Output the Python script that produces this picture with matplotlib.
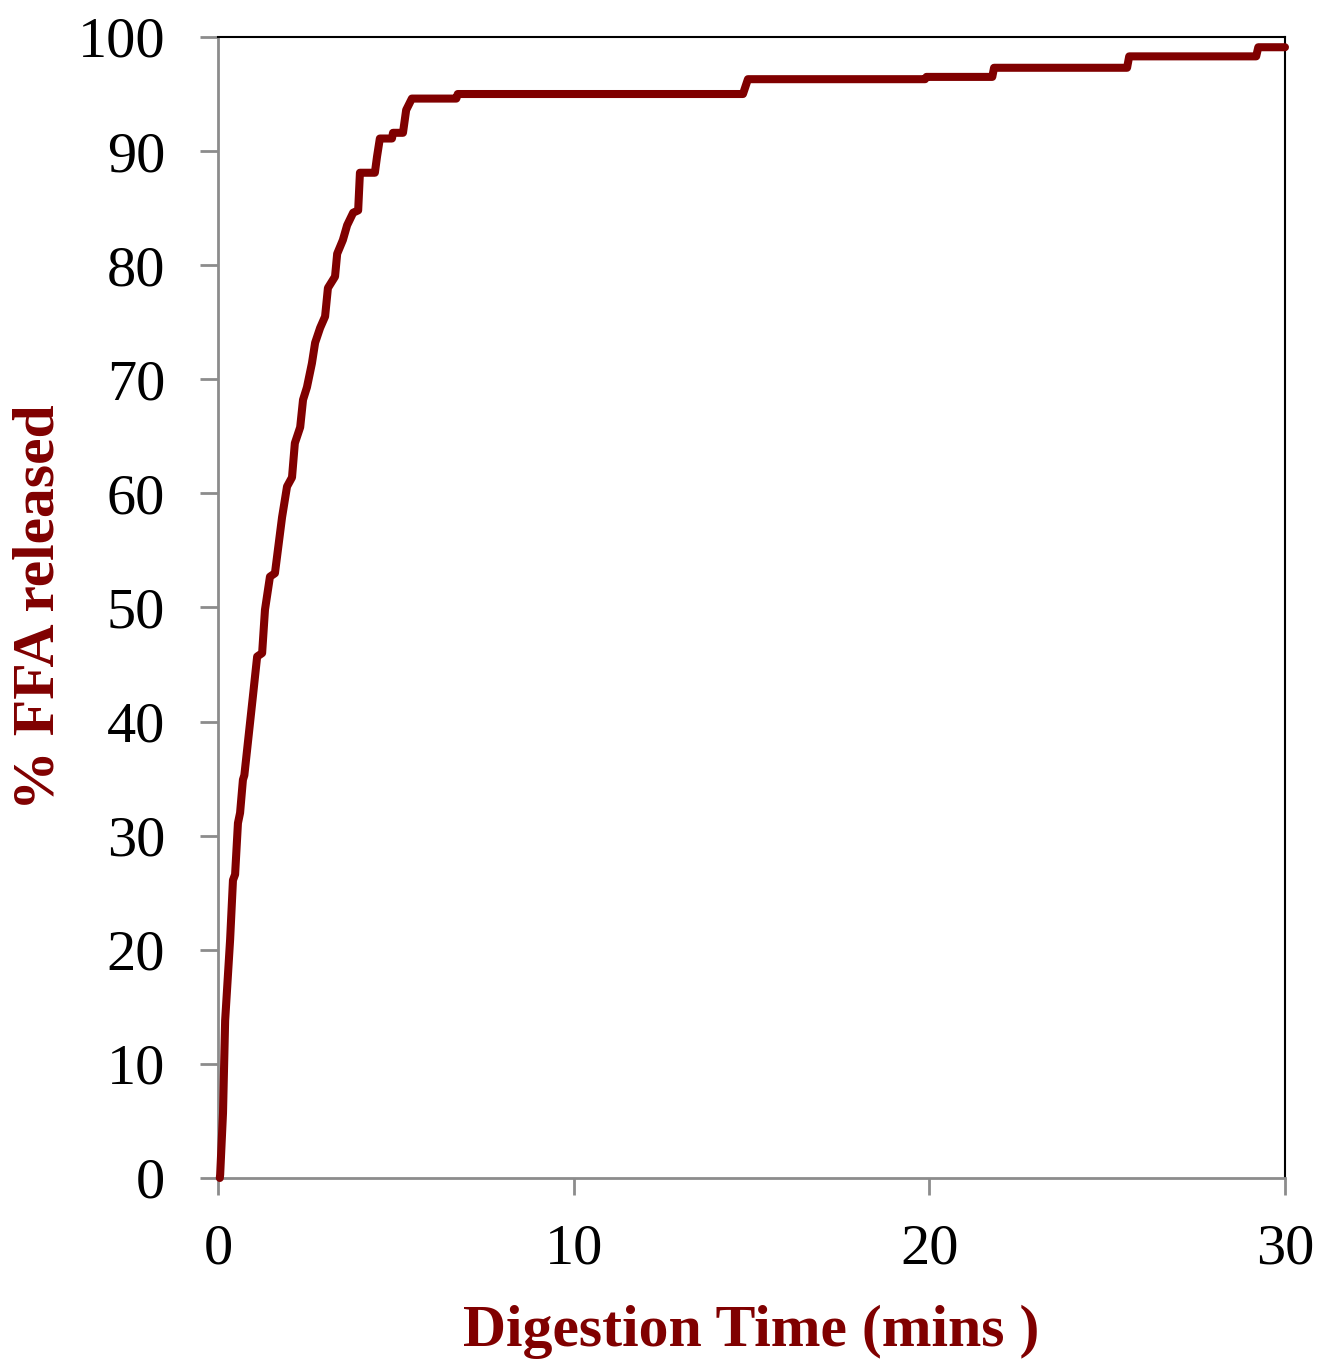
import matplotlib.pyplot as plt

# digestion time (mins) and % FFA released
time_min = [0.05, 0.06, 0.14, 0.20, 0.34, 0.42, 0.48, 0.56, 0.62, 0.70, 0.74, 0.90,
            0.98, 1.10, 1.24, 1.32, 1.46, 1.60, 1.80, 1.94, 2.08, 2.16, 2.31, 2.39,
            2.50, 2.64, 2.73, 2.87, 3.01, 3.09, 3.29, 3.35, 3.51, 3.63, 3.80, 3.94,
            3.99, 4.41, 4.47, 4.55, 4.89, 4.92, 5.20, 5.29, 5.45, 6.70, 6.74, 14.76,
            14.90, 19.88, 19.92, 21.77, 21.82, 25.56, 25.62, 29.19, 29.25, 30.0]
ffa_pct = [0.0, 0.3, 5.7, 13.8, 20.9, 26.1, 26.6, 31.1, 32.0, 34.9, 35.3, 39.9,
           42.2, 45.7, 46.0, 49.8, 52.7, 53.0, 57.9, 60.6, 61.4, 64.4, 65.8, 68.2,
           69.3, 71.4, 73.2, 74.5, 75.5, 78.0, 79.0, 81.0, 82.2, 83.5, 84.6, 84.8,
           88.1, 88.1, 89.5, 91.1, 91.1, 91.6, 91.6, 93.6, 94.6, 94.6, 95.0, 95.0,
           96.3, 96.3, 96.5, 96.5, 97.3, 97.3, 98.3, 98.3, 99.1, 99.1]

x_ticks = [0, 10, 20, 30]
y_ticks = [0, 10, 20, 30, 40, 50, 60, 70, 80, 90, 100]

dark_red = '#800000'
grey = '#8c8c8c'

plt.rcParams['font.family'] = ['Liberation Serif', 'DejaVu Serif']

fig = plt.figure(figsize=(13.19, 13.59), dpi=100)
ax = fig.add_axes([0.1653, 0.1332, 0.8089, 0.8396])

ax.plot(time_min, ffa_pct, color=dark_red, linewidth=5.8,
        solid_joinstyle='round', solid_capstyle='round', clip_on=False, zorder=3)

ax.set_xlim(0, 30)
ax.set_ylim(0, 100)
ax.set_xticks(x_ticks)
ax.set_yticks(y_ticks)

for side in ['left', 'bottom']:
    ax.spines[side].set_color(grey)
    ax.spines[side].set_linewidth(2)
for side in ['top', 'right']:
    ax.spines[side].set_color('black')
    ax.spines[side].set_linewidth(1.5)

ax.tick_params(axis='y', length=13, width=2, color=grey, pad=25, labelsize=42)
ax.tick_params(axis='x', length=12, width=2, color=grey, pad=21, labelsize=42)

ax.set_xlabel('Digestion Time (mins )', fontsize=43, fontweight='bold',
              color=dark_red, labelpad=21)
ax.set_ylabel('% FFA released', fontsize=43, fontweight='bold', color=dark_red)
ax.yaxis.set_label_coords(-0.142, 0.5)

plt.savefig('out.png', dpi=100)
